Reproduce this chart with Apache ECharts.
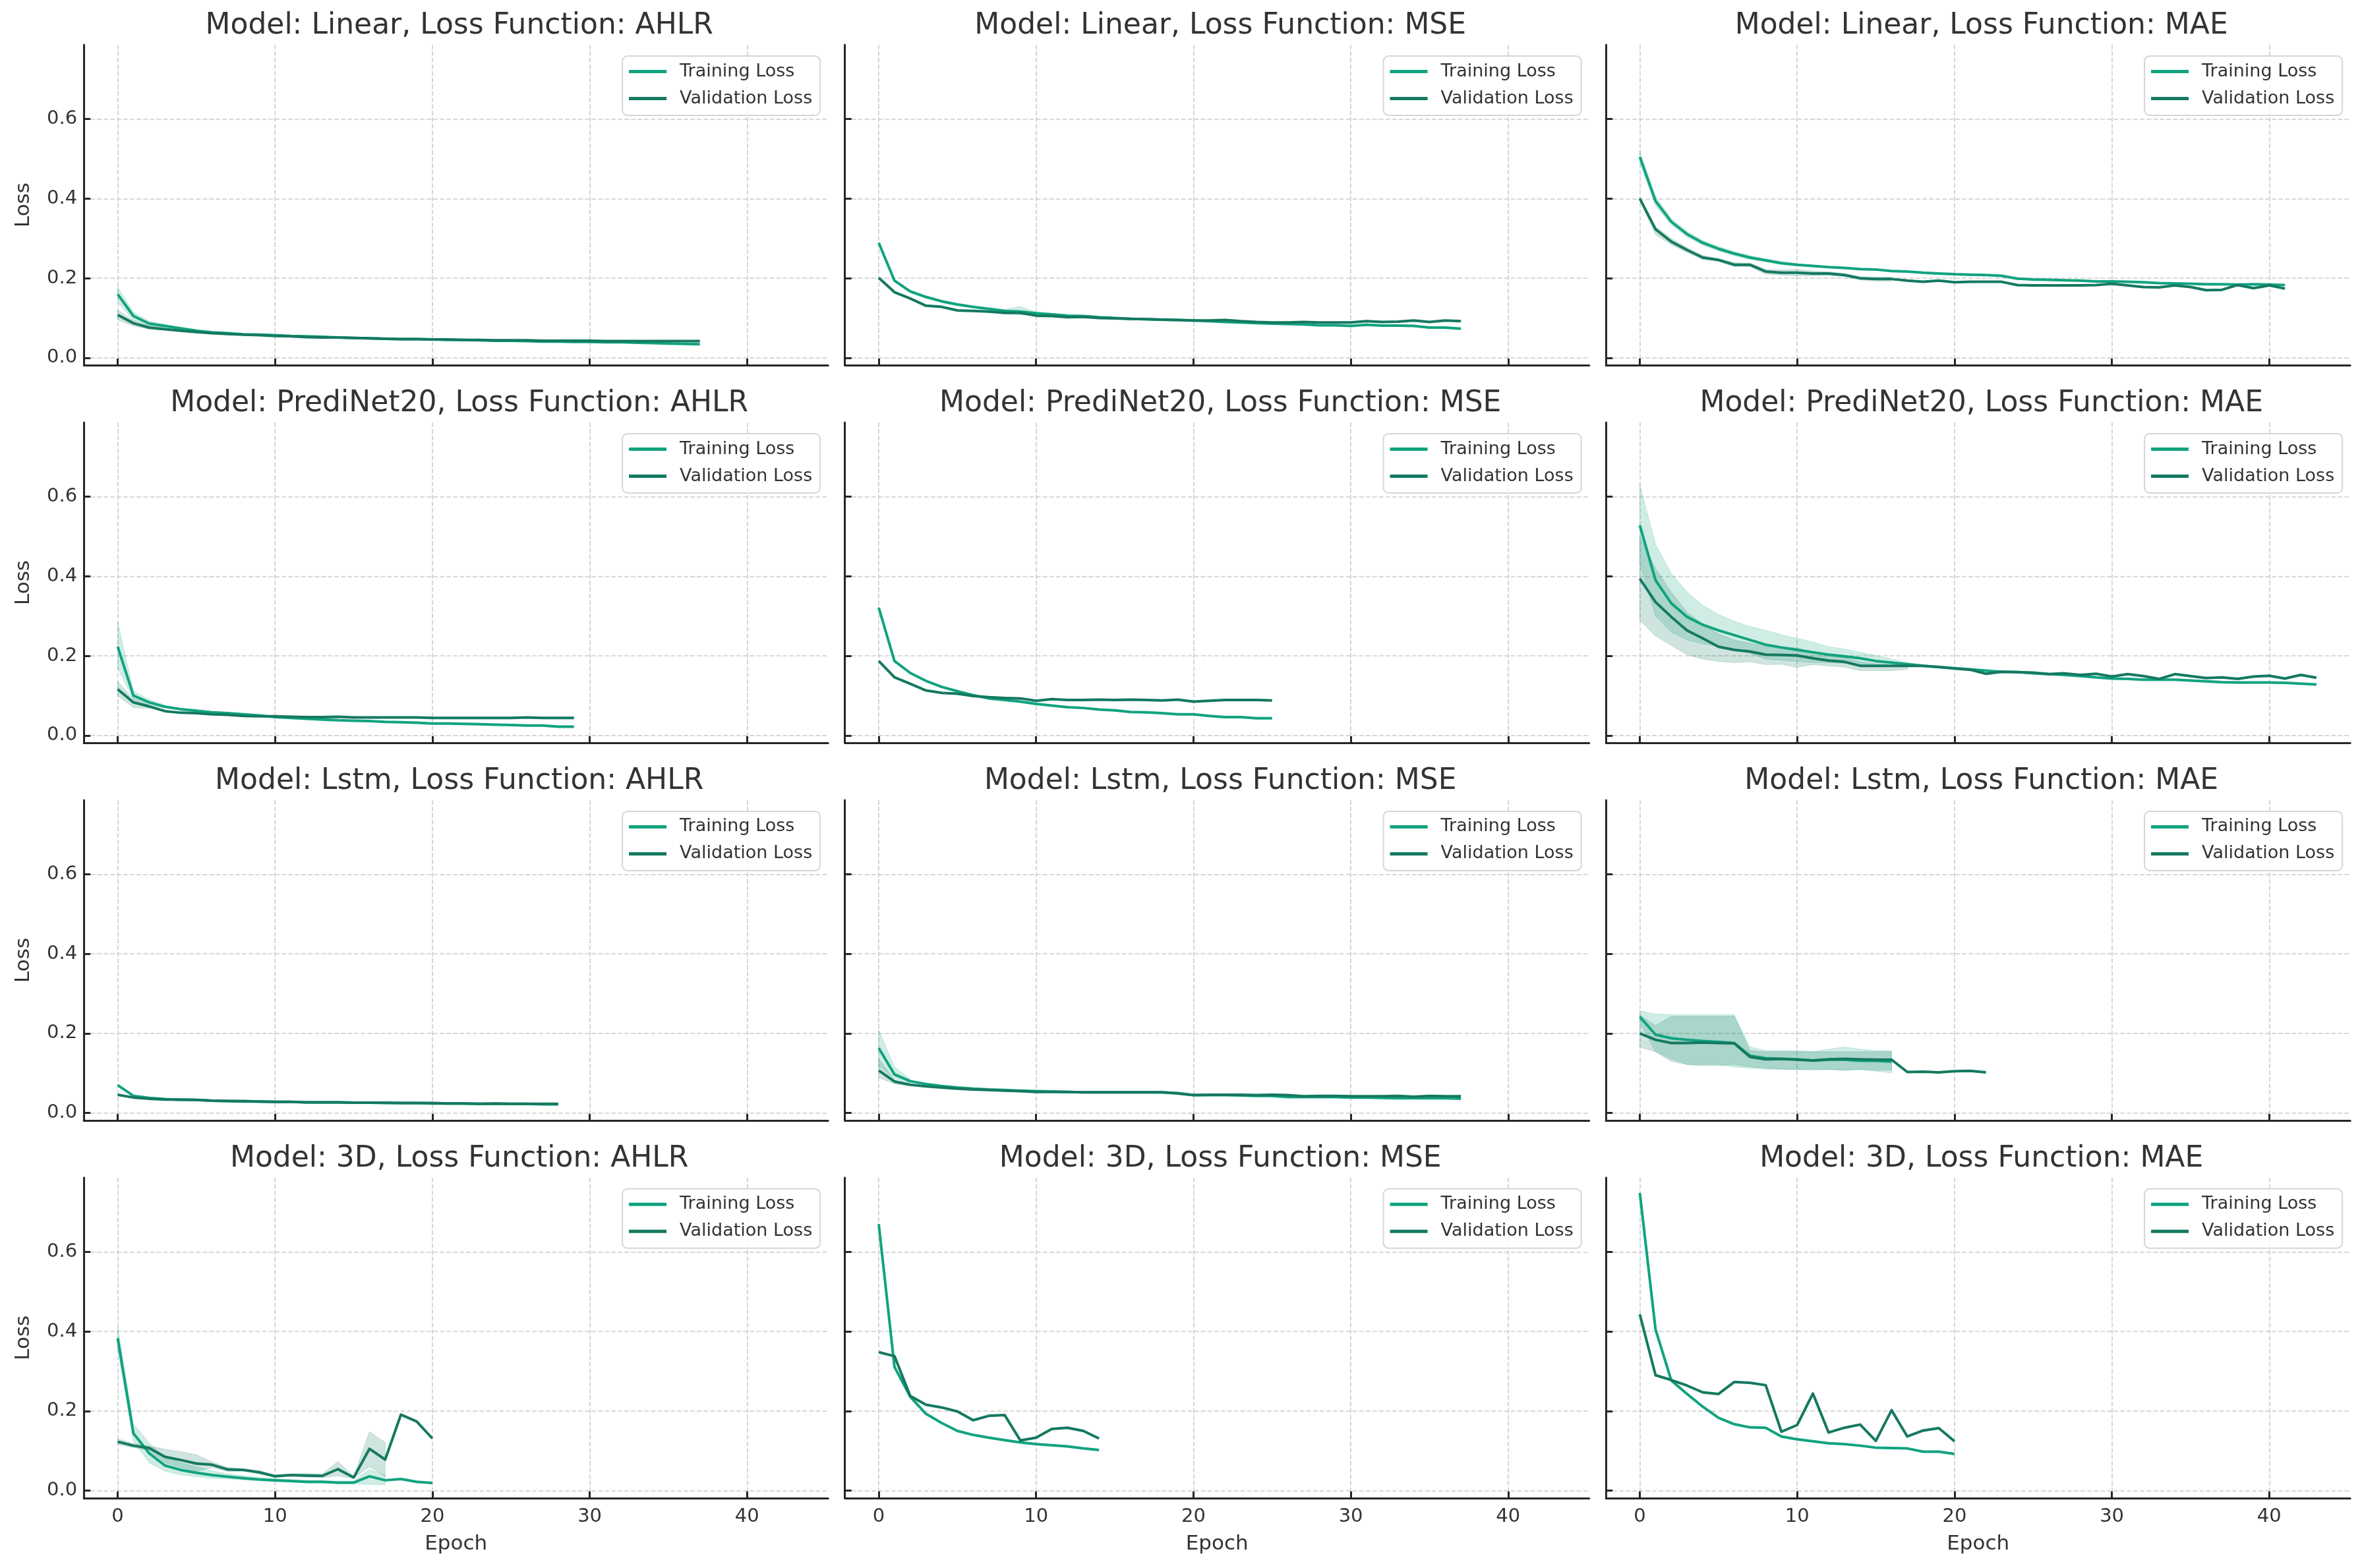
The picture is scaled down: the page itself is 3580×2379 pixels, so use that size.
<!DOCTYPE html>
<html>
<head>
<meta charset="utf-8">
<script src="https://cdn.jsdelivr.net/npm/echarts@6/dist/echarts.min.js"></script>
<style>
html,body{margin:0;padding:0;background:#fff;}
#chart{width:3580px;height:2379px;}
</style>
</head>
<body>
<div id="chart"></div>
<script>
// ---------- labels ----------
const models = ['Linear', 'PrediNet20', 'Lstm', '3D'];
const lossFunctions = ['AHLR', 'MSE', 'MAE'];
const seriesNames = ['Training Loss', 'Validation Loss'];
const xTicks = [0, 10, 20, 30, 40];
const yTicks = [0, 0.2, 0.4, 0.6];
const xLabel = 'Epoch';
const yLabel = 'Loss';

// ---------- Linear ----------
const linearAhlrTrain = [0.160,0.105,0.086,0.080,0.074,0.068,0.064,0.062,0.059,0.058,0.057,0.055,0.054,0.053,0.051,0.050,0.049,0.048,0.047,0.047,0.046,0.045,0.045,0.044,0.043,0.043,0.042,0.041,0.041,0.040,0.040,0.039,0.039,0.038,0.037,0.036,0.035,0.034];
const linearAhlrVal = [0.108,0.087,0.076,0.072,0.068,0.065,0.062,0.060,0.058,0.057,0.055,0.054,0.052,0.051,0.051,0.050,0.049,0.048,0.047,0.047,0.046,0.046,0.045,0.045,0.044,0.044,0.044,0.043,0.043,0.043,0.043,0.042,0.042,0.042,0.042,0.042,0.042,0.042];
const linearAhlrTrainHigh = [0.178,0.115,0.092,0.084,0.077,0.071];
const linearAhlrTrainLow = [0.140,0.095,0.080,0.076,0.071,0.065];
const linearAhlrValHigh = [0.120,0.094,0.080,0.075];
const linearAhlrValLow = [0.095,0.080,0.072,0.069];

const linearMseTrain = [0.289,0.194,0.167,0.153,0.142,0.134,0.128,0.123,0.118,0.116,0.112,0.109,0.106,0.105,0.102,0.100,0.098,0.097,0.096,0.095,0.094,0.092,0.090,0.089,0.087,0.086,0.085,0.084,0.082,0.082,0.080,0.083,0.081,0.081,0.080,0.076,0.076,0.073];
const linearMseVal = [0.201,0.165,0.149,0.131,0.128,0.119,0.118,0.116,0.113,0.113,0.106,0.105,0.102,0.103,0.100,0.099,0.098,0.097,0.096,0.095,0.094,0.094,0.095,0.092,0.090,0.089,0.089,0.090,0.089,0.089,0.089,0.092,0.090,0.091,0.094,0.090,0.094,0.092];
const linearMseTrainHigh = [0.292,0.197,0.170,0.156,0.145,0.137,0.131,0.126,0.122,0.129,0.115,0.112,0.109];
const linearMseTrainLow = [0.286,0.191,0.164,0.150,0.139,0.131,0.125,0.119,0.112,0.108,0.107,0.105,0.102];

const linearMaeTrain = [0.505,0.394,0.342,0.311,0.289,0.274,0.262,0.252,0.245,0.238,0.234,0.231,0.228,0.226,0.223,0.222,0.218,0.217,0.214,0.212,0.210,0.209,0.208,0.206,0.199,0.197,0.196,0.195,0.194,0.192,0.192,0.191,0.190,0.188,0.187,0.186,0.185,0.185,0.184,0.185,0.184,0.183];
const linearMaeVal = [0.400,0.323,0.292,0.271,0.252,0.246,0.234,0.234,0.217,0.214,0.214,0.212,0.212,0.208,0.200,0.198,0.198,0.194,0.191,0.194,0.190,0.191,0.191,0.191,0.183,0.182,0.182,0.182,0.182,0.183,0.186,0.182,0.178,0.177,0.182,0.178,0.170,0.171,0.183,0.175,0.182,0.174];
const linearMaeTrainHigh = [0.520,0.406,0.350,0.318,0.295,0.280,0.267,0.257,0.249,0.242,0.237];
const linearMaeTrainLow = [0.490,0.382,0.334,0.304,0.283,0.268,0.257,0.247,0.241,0.234,0.231];
const linearMaeValHigh = [0.405,0.330,0.300,0.277,0.257,0.250,0.239,0.238,0.222,0.221,0.222,0.218,0.216,0.212,0.204,0.203,0.203];
const linearMaeValLow = [0.395,0.310,0.284,0.265,0.247,0.242,0.229,0.229,0.210,0.208,0.206,0.206,0.207,0.204,0.196,0.193,0.193];

// ---------- PrediNet20 ----------
const prediAhlrTrain = [0.223,0.100,0.083,0.072,0.066,0.062,0.058,0.056,0.053,0.050,0.046,0.044,0.042,0.040,0.038,0.037,0.036,0.034,0.033,0.032,0.030,0.030,0.029,0.028,0.027,0.026,0.025,0.025,0.022,0.022];
const prediAhlrVal = [0.116,0.083,0.073,0.061,0.057,0.056,0.053,0.052,0.049,0.048,0.048,0.047,0.046,0.046,0.047,0.045,0.045,0.045,0.045,0.045,0.044,0.044,0.044,0.044,0.044,0.044,0.045,0.044,0.044,0.044];
const prediAhlrTrainHigh = [0.284,0.112,0.090,0.077];
const prediAhlrTrainLow = [0.170,0.090,0.077,0.068];
const prediAhlrValHigh = [0.135,0.092,0.077];
const prediAhlrValLow = [0.100,0.070,0.068];

const prediMseTrain = [0.321,0.187,0.157,0.137,0.122,0.111,0.101,0.093,0.089,0.085,0.079,0.075,0.071,0.069,0.065,0.063,0.059,0.058,0.056,0.053,0.053,0.049,0.046,0.046,0.043,0.043];
const prediMseVal = [0.187,0.146,0.130,0.113,0.107,0.105,0.099,0.096,0.094,0.093,0.087,0.091,0.089,0.089,0.090,0.089,0.090,0.089,0.088,0.090,0.085,0.087,0.089,0.089,0.089,0.088];

const prediMaeTrain = [0.528,0.390,0.332,0.298,0.278,0.264,0.252,0.240,0.228,0.221,0.215,0.209,0.203,0.199,0.194,0.187,0.183,0.179,0.175,0.172,0.169,0.166,0.163,0.160,0.159,0.156,0.154,0.152,0.149,0.146,0.143,0.142,0.140,0.140,0.140,0.138,0.136,0.134,0.133,0.133,0.133,0.132,0.130,0.128];
const prediMaeVal = [0.394,0.335,0.298,0.264,0.244,0.223,0.215,0.211,0.203,0.202,0.201,0.194,0.188,0.185,0.175,0.175,0.175,0.175,0.175,0.172,0.168,0.165,0.155,0.160,0.159,0.158,0.154,0.156,0.152,0.155,0.148,0.154,0.149,0.142,0.154,0.149,0.144,0.146,0.142,0.148,0.150,0.143,0.152,0.145];
const prediMaeTrainHigh = [0.630,0.481,0.407,0.361,0.327,0.304,0.287,0.274,0.264,0.253,0.244,0.235,0.223,0.217,0.209,0.201,0.192,0.183,0.178];
const prediMaeTrainLow = [0.430,0.300,0.260,0.240,0.230,0.224,0.217,0.206,0.192,0.189,0.186,0.183,0.183,0.181,0.179,0.173,0.174,0.175,0.172];
const prediMaeValHigh = [0.500,0.420,0.360,0.310,0.280,0.255,0.240,0.232,0.225,0.222,0.220,0.210,0.200,0.195,0.185,0.180,0.178,0.177];
const prediMaeValLow = [0.289,0.250,0.226,0.203,0.192,0.186,0.183,0.185,0.178,0.179,0.171,0.178,0.175,0.172,0.163,0.163,0.163,0.166];

// ---------- Lstm ----------
const lstmAhlrTrain = [0.070,0.043,0.038,0.035,0.033,0.033,0.031,0.030,0.029,0.029,0.028,0.028,0.027,0.027,0.027,0.026,0.026,0.025,0.025,0.025,0.024,0.024,0.024,0.023,0.023,0.023,0.023,0.022,0.022];
const lstmAhlrVal = [0.046,0.039,0.036,0.034,0.034,0.033,0.031,0.030,0.030,0.029,0.028,0.028,0.027,0.027,0.027,0.026,0.026,0.026,0.025,0.025,0.025,0.024,0.024,0.023,0.024,0.023,0.023,0.023,0.023];

const lstmMseTrain = [0.163,0.097,0.080,0.073,0.068,0.064,0.061,0.059,0.058,0.056,0.055,0.054,0.053,0.052,0.052,0.052,0.052,0.052,0.052,0.050,0.045,0.045,0.045,0.044,0.043,0.043,0.040,0.040,0.040,0.040,0.039,0.039,0.038,0.037,0.037,0.037,0.037,0.036];
const lstmMseVal = [0.107,0.079,0.071,0.067,0.064,0.061,0.059,0.058,0.056,0.055,0.053,0.053,0.053,0.052,0.052,0.052,0.052,0.052,0.052,0.049,0.045,0.046,0.046,0.046,0.045,0.046,0.045,0.042,0.043,0.043,0.042,0.042,0.042,0.043,0.041,0.043,0.042,0.042];
const lstmMseTrainHigh = [0.208,0.116,0.085];
const lstmMseTrainLow = [0.119,0.086,0.076];
const lstmMseValHigh = [0.136,0.083,0.074];
const lstmMseValLow = [0.089,0.073,0.068];

const lstmMaeTrain = [0.242,0.197,0.188,0.184,0.181,0.179,0.176,0.144,0.138,0.136,0.135,0.132,0.134,0.134,0.131,0.131,0.129];
const lstmMaeVal = [0.200,0.184,0.176,0.176,0.177,0.176,0.175,0.141,0.135,0.136,0.134,0.132,0.135,0.136,0.135,0.134,0.134,0.103,0.104,0.102,0.105,0.106,0.102];
const lstmMaeTrainHigh = [0.257,0.249,0.247,0.247,0.247,0.247,0.247,0.166,0.157,0.157,0.157,0.154,0.160,0.166,0.160,0.157,0.157];
const lstmMaeTrainLow = [0.227,0.154,0.136,0.122,0.122,0.122,0.116,0.113,0.110,0.110,0.109,0.108,0.109,0.107,0.109,0.105,0.101];
const lstmMaeValHigh = [0.246,0.220,0.243,0.243,0.243,0.243,0.243,0.157,0.154,0.154,0.154,0.154,0.154,0.154,0.154,0.154,0.154];
const lstmMaeValLow = [0.166,0.154,0.130,0.122,0.119,0.119,0.122,0.116,0.113,0.110,0.110,0.110,0.110,0.108,0.110,0.108,0.108];

// ---------- 3D ----------
const d3AhlrTrain = [0.383,0.144,0.094,0.063,0.052,0.045,0.039,0.035,0.031,0.028,0.026,0.024,0.022,0.022,0.020,0.020,0.036,0.026,0.029,0.022,0.019];
const d3AhlrVal = [0.123,0.113,0.107,0.085,0.077,0.068,0.065,0.053,0.052,0.046,0.036,0.039,0.038,0.037,0.054,0.033,0.105,0.078,0.191,0.174,0.131];
const d3AhlrTrainHigh = [0.412,0.168,0.120,0.085,0.070,0.060,0.050,0.042,0.037,0.033,0.030,0.028,0.026,0.025,0.024,0.024,0.053,0.039];
const d3AhlrTrainLow = [0.355,0.125,0.070,0.049,0.040,0.035,0.031,0.029,0.027,0.025,0.023,0.021,0.019,0.019,0.017,0.017,0.016,0.014];
const d3AhlrValHigh = [0.130,0.118,0.112,0.104,0.098,0.090,0.072,0.058,0.055,0.050,0.040,0.042,0.043,0.042,0.073,0.036,0.148,0.121];
const d3AhlrValLow = [0.116,0.108,0.102,0.070,0.058,0.049,0.058,0.048,0.049,0.042,0.033,0.036,0.034,0.033,0.037,0.031,0.060,0.036];

const d3MseTrain = [0.670,0.311,0.236,0.193,0.170,0.150,0.140,0.133,0.127,0.121,0.117,0.114,0.111,0.106,0.102];
const d3MseVal = [0.348,0.338,0.238,0.216,0.209,0.199,0.177,0.188,0.190,0.126,0.133,0.155,0.158,0.150,0.131];

const d3MaeTrain = [0.748,0.405,0.277,0.243,0.211,0.183,0.167,0.159,0.158,0.136,0.129,0.124,0.119,0.117,0.113,0.108,0.107,0.106,0.098,0.098,0.092];
const d3MaeVal = [0.443,0.290,0.278,0.264,0.247,0.243,0.273,0.271,0.265,0.148,0.165,0.244,0.146,0.158,0.166,0.125,0.202,0.136,0.151,0.157,0.124];

// ---------- panel table (row-major) ----------
const panels = [
  {train: linearAhlrTrain, val: linearAhlrVal, tHi: linearAhlrTrainHigh, tLo: linearAhlrTrainLow, vHi: linearAhlrValHigh, vLo: linearAhlrValLow},
  {train: linearMseTrain, val: linearMseVal, tHi: linearMseTrainHigh, tLo: linearMseTrainLow},
  {train: linearMaeTrain, val: linearMaeVal, tHi: linearMaeTrainHigh, tLo: linearMaeTrainLow, vHi: linearMaeValHigh, vLo: linearMaeValLow},
  {train: prediAhlrTrain, val: prediAhlrVal, tHi: prediAhlrTrainHigh, tLo: prediAhlrTrainLow, vHi: prediAhlrValHigh, vLo: prediAhlrValLow},
  {train: prediMseTrain, val: prediMseVal},
  {train: prediMaeTrain, val: prediMaeVal, tHi: prediMaeTrainHigh, tLo: prediMaeTrainLow, vHi: prediMaeValHigh, vLo: prediMaeValLow},
  {train: lstmAhlrTrain, val: lstmAhlrVal},
  {train: lstmMseTrain, val: lstmMseVal, tHi: lstmMseTrainHigh, tLo: lstmMseTrainLow, vHi: lstmMseValHigh, vLo: lstmMseValLow},
  {train: lstmMaeTrain, val: lstmMaeVal, tHi: lstmMaeTrainHigh, tLo: lstmMaeTrainLow, vHi: lstmMaeValHigh, vLo: lstmMaeValLow},
  {train: d3AhlrTrain, val: d3AhlrVal, tHi: d3AhlrTrainHigh, tLo: d3AhlrTrainLow, vHi: d3AhlrValHigh, vLo: d3AhlrValLow},
  {train: d3MseTrain, val: d3MseVal},
  {train: d3MaeTrain, val: d3MaeVal}
];

// ---------- styling / layout ----------
const FONT = 'DejaVu Sans';
const TEXT = '#333333';
const SPINE = '#262626';
const C_TRAIN = '#10A37F';
const C_VAL = '#147960';
const BAND_TRAIN = 'rgba(16,163,127,0.2)';
const BAND_VAL = 'rgba(20,121,96,0.2)';
const W = 3580;
const X0 = 127.2, COLP = 1154.5, GW = 1129;
const Y0 = 68.1, ROWP = 572.9, GH = 486;

const grids = [], xAxes = [], yAxes = [], titles = [], legends = [], series = [];
const toPts = arr => arr.map((v, i) => [i, v]);

// band polygon drawn once per series through the axis scales (api.coord)
function bandSeries(k, hi, lo, color) {
  const rows = lo.map((v, i) => [i, v, hi[i]]);
  return {
    type: 'custom', name: 'band', xAxisIndex: k, yAxisIndex: k, silent: true, z: 1,
    data: rows,
    encode: {x: 0, y: [1, 2]},
    renderItem: function (params, api) {
      if (params.dataIndex !== 0) return null;
      const pts = [];
      for (let i = 0; i < rows.length; i++) pts.push(api.coord([rows[i][0], rows[i][2]]));
      for (let i = rows.length - 1; i >= 0; i--) pts.push(api.coord([rows[i][0], rows[i][1]]));
      return {
        type: 'polygon',
        shape: {points: pts},
        style: {fill: color, stroke: color, lineWidth: 1}
      };
    }
  };
}

for (let r = 0; r < 4; r++) {
  for (let c = 0; c < 3; c++) {
    const k = r * 3 + c;
    const left = X0 + c * COLP, top = Y0 + r * ROWP;
    grids.push({left: left, top: top, width: GW, height: GH, containLabel: false, outerBoundsMode: 'none'});
    xAxes.push({
      type: 'value', gridIndex: k, min: -2.15, max: 45.15,
      name: r === 3 ? xLabel : '', nameLocation: 'middle', nameGap: 55,
      nameTextStyle: {fontFamily: FONT, fontSize: 31, color: TEXT},
      axisLine: {show: true, onZero: false, lineStyle: {color: SPINE, width: 3}},
      axisTick: {show: true, inside: true, length: 10, customValues: xTicks, lineStyle: {color: SPINE, width: 3}},
      axisLabel: {show: r === 3, customValues: xTicks, fontFamily: FONT, fontSize: 29, color: TEXT, margin: 14,
                  formatter: v => String(Math.round(v))},
      splitLine: {show: true, lineStyle: {color: '#cccccc', width: 1.6, type: [7, 3]}}
    });
    yAxes.push({
      type: 'value', gridIndex: k, min: -0.0186, max: 0.7866,
      name: c === 0 ? yLabel : '', nameLocation: 'middle', nameGap: 76,
      nameTextStyle: {fontFamily: FONT, fontSize: 31, color: TEXT},
      axisLine: {show: true, onZero: false, lineStyle: {color: SPINE, width: 3}},
      axisTick: {show: true, inside: true, length: 10, customValues: yTicks, lineStyle: {color: SPINE, width: 3}},
      axisLabel: {show: c === 0, customValues: yTicks, fontFamily: FONT, fontSize: 29, color: TEXT, margin: 10,
                  formatter: v => v.toFixed(1)},
      splitLine: {show: true, lineStyle: {color: '#cccccc', width: 1.6, type: [7, 3]}}
    });
    titles.push({
      text: 'Model: ' + models[r] + ', Loss Function: ' + lossFunctions[c],
      left: left + GW / 2, top: 13 + r * ROWP, textAlign: 'center',
      textStyle: {fontFamily: FONT, fontSize: 44, fontWeight: 'normal', color: TEXT}
    });
    legends.push({
      data: seriesNames, orient: 'vertical',
      right: W - (left + GW - 12), top: top + 17,
      icon: 'rect', itemWidth: 57, itemHeight: 5, itemGap: 14,
      padding: [10, 12, 12, 10],
      backgroundColor: 'rgba(255,255,255,0.8)', borderColor: '#d6d6d6', borderWidth: 2, borderRadius: 8,
      textStyle: {fontFamily: FONT, fontSize: 27, color: TEXT, padding: [0, 0, 0, 15]},
      selectedMode: false
    });

    const p = panels[k];
    if (p.tHi) series.push(bandSeries(k, p.tHi, p.tLo, BAND_TRAIN));
    if (p.vHi) series.push(bandSeries(k, p.vHi, p.vLo, BAND_VAL));
    series.push({
      type: 'line', name: seriesNames[0], xAxisIndex: k, yAxisIndex: k, data: toPts(p.train),
      symbol: 'none', showSymbol: false, lineStyle: {color: C_TRAIN, width: 4, join: 'round'},
      itemStyle: {color: C_TRAIN}, z: 3
    });
    series.push({
      type: 'line', name: seriesNames[1], xAxisIndex: k, yAxisIndex: k, data: toPts(p.val),
      symbol: 'none', showSymbol: false, lineStyle: {color: C_VAL, width: 4, join: 'round'},
      itemStyle: {color: C_VAL}, z: 4
    });
  }
}

const chart = echarts.init(document.getElementById('chart'), null, {renderer: 'canvas'});
chart.setOption({
  backgroundColor: '#ffffff',
  animation: false,
  title: titles,
  legend: legends,
  grid: grids,
  xAxis: xAxes,
  yAxis: yAxes,
  series: series
});
</script>
</body>
</html>
